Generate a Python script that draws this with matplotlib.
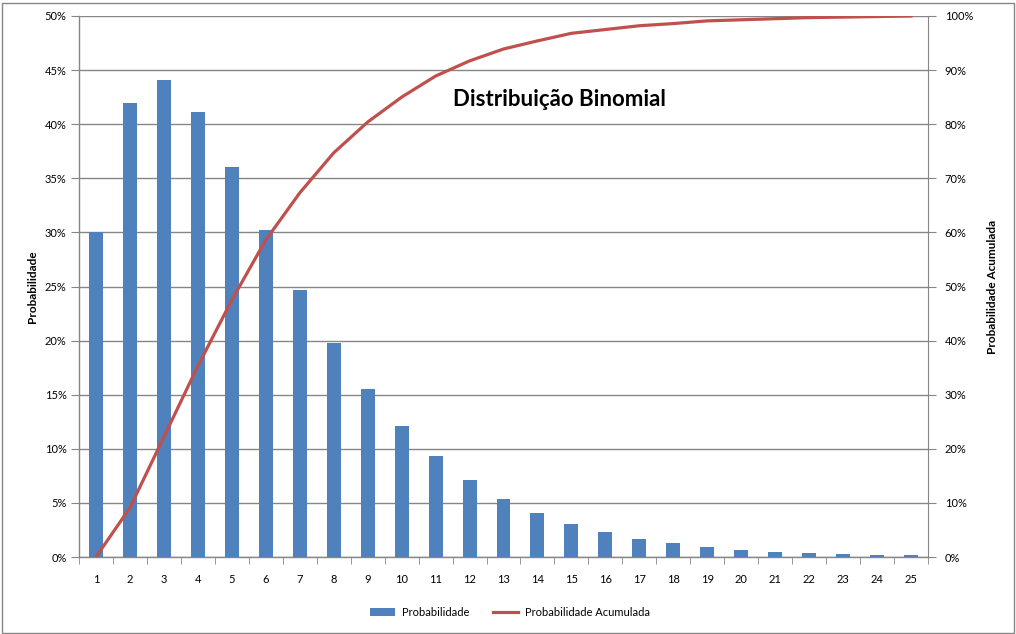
import matplotlib
matplotlib.use("Agg")
import matplotlib.pyplot as plt
from matplotlib.patches import Rectangle
from matplotlib.ticker import FuncFormatter, FixedLocator

plt.rcParams['font.family'] = ['Lato', 'DejaVu Sans']

categories = list(range(1, 26))
prob = [30.0, 42.0, 44.1, 41.1, 36.0, 30.2, 24.7, 19.8, 15.5, 12.1,
        9.33, 7.1, 5.36, 4.07, 3.05, 2.3, 1.66, 1.3, 0.92, 0.65,
        0.46, 0.37, 0.3, 0.2, 0.2]
cum = [0.0, 9.1, 22.2, 35.3, 47.5, 58.6, 67.3, 74.7, 80.4, 85.0,
       88.9, 91.7, 93.9, 95.4, 96.8, 97.5, 98.2, 98.6, 99.1, 99.3,
       99.5, 99.7, 99.8, 99.9, 100.0]

title = "Distribuição Binomial"
bar_color = "#4F81BD"
line_color = "#C0504D"
grid_color = "#868686"

W, H = 1016, 634
fig = plt.figure(figsize=(W / 100, H / 100), dpi=100)
fig.patch.set_facecolor("white")
fig.patches.append(Rectangle((1.5 / W, 1.5 / H), (W - 4) / W, (H - 4) / H,
                             transform=fig.transFigure, fill=False,
                             edgecolor=grid_color, linewidth=1.0))

L, R, T, B = 79, 928, 16, 557
ax = fig.add_axes([L / W, 1 - B / H, (R - L) / W, (B - T) / H])
bars = ax.bar(categories, prob, width=0.41, color=bar_color, zorder=3,
              label="Probabilidade")
ax.set_xlim(0.5, 25.5)
ax.set_ylim(0, 50)
ax.set_yticks(range(0, 51, 5))
ax.yaxis.set_major_formatter(FuncFormatter(lambda v, p: f"{int(v)}%"))
ax.grid(axis="y", color=grid_color, linewidth=1.0, zorder=0)
ax.set_axisbelow(True)

ax.xaxis.set_major_locator(FixedLocator(categories))
ax.set_xticklabels([str(c) for c in categories])
ax.tick_params(axis="x", which="major", length=0, pad=12, labelsize=8, labelcolor="#000000")
ax.xaxis.set_minor_locator(FixedLocator([c + 0.5 for c in range(0, 26)]))
ax.tick_params(axis="x", which="minor", length=5, color=grid_color, direction="out")
ax.tick_params(axis="y", length=6, color=grid_color, direction="out", labelsize=8, pad=3)

for s in ["top", "right"]:
    ax.spines[s].set_visible(False)
for s in ["left", "bottom"]:
    ax.spines[s].set_color(grid_color)
    ax.spines[s].set_linewidth(1.0)

ax2 = ax.twinx()
line, = ax2.plot(categories, cum, color=line_color, linewidth=2.3, zorder=4,
                 label="Probabilidade Acumulada")
ax2.set_ylim(0, 100)
ax2.set_yticks(range(0, 101, 10))
ax2.yaxis.set_major_formatter(FuncFormatter(lambda v, p: f"{int(v)}%"))
ax2.tick_params(axis="y", length=6, color=grid_color, direction="out", labelsize=8, pad=6)
for s in ["top", "left", "bottom"]:
    ax2.spines[s].set_visible(False)
ax2.spines["right"].set_color(grid_color)

ax.set_ylabel("Probabilidade", fontsize=8.5, fontweight="bold", labelpad=5)
ax2.set_ylabel("Probabilidade Acumulada", fontsize=8.5, fontweight="bold",
               rotation=90, labelpad=10)

fig.text(559 / W, 1 - 100 / H, title, fontsize=16, fontweight="bold",
         ha="center", va="center")

fig.legend([bars, line], ["Probabilidade", "Probabilidade Acumulada"],
           loc="center", bbox_to_anchor=(510 / W, 1 - 612 / H), ncol=2,
           frameon=False, fontsize=8, handlelength=2.2, columnspacing=2.2,
           handletextpad=0.6)

fig.savefig("out.png", dpi=100)
